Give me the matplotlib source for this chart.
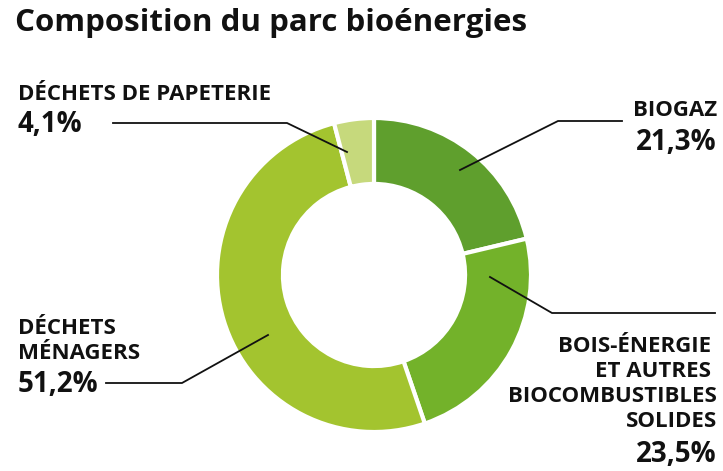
import matplotlib
matplotlib.use("Agg")
import matplotlib.pyplot as plt

# données
categories = ["BIOGAZ", "BOIS-ÉNERGIE \nET AUTRES \nBIOCOMBUSTIBLES\nSOLIDES", "DÉCHETS\nMÉNAGERS", "DÉCHETS DE PAPETERIE"]
values = [21.3, 23.5, 51.2, 4.1]
value_labels = ["21,3%", "23,5%", "51,2%", "4,1%"]
colors = ["#5f9f2d", "#73b22a", "#a3c42f", "#c6d97c"]

W, H = 723, 471
plt.rcParams['font.family'] = ['Open Sans', 'DejaVu Sans']

fig = plt.figure(figsize=(W / 100, H / 100), dpi=100)
ax = fig.add_axes([0, 0, 1, 1])

def py(y):
    # pixel (haut) -> coordonnées
    return H - y

cx, cy, r = 374, py(275), 157
ax.pie(values, colors=colors, startangle=90, counterclock=False,
       center=(cx, cy), radius=r, frame=True,
       wedgeprops=dict(width=r * 0.42, edgecolor='white', linewidth=3))
ax.set_xlim(0, W)
ax.set_ylim(0, H)
ax.axis('off')

ax.text(15, py(23), "Composition du parc bioénergies", fontsize=22.5, fontweight='bold',
        va='center', ha='left', color='#111111')

# lignes de rappel
leaders = [
    [(460, 170), (558, 121), (622, 121)],
    [(490, 277), (552, 313), (715, 313)],
    [(268, 335), (182, 383), (106, 383)],
    [(347, 152), (287, 123), (113, 123)],
]
for pts in leaders:
    ax.plot([p[0] for p in pts], [py(p[1]) for p in pts], color='#111111', lw=1.3)

lab_kw = dict(fontsize=16, fontweight='bold', color='#111111', linespacing=1.25)
pct_kw = dict(fontsize=20, fontweight='bold', color='#111111')

ax.text(717, py(111), categories[0], ha='right', va='center', **lab_kw)
ax.text(717, py(143), value_labels[0], ha='right', va='center', **pct_kw)

ax.text(717, py(384), categories[1], ha='right', va='center', multialignment='right', **lab_kw)
ax.text(717, py(455), value_labels[1], ha='right', va='center', **pct_kw)

ax.text(18, py(341), categories[2], ha='left', va='center', **lab_kw)
ax.text(18, py(385), value_labels[2], ha='left', va='center', **pct_kw)

ax.text(18, py(94), categories[3], ha='left', va='center', **lab_kw)
ax.text(18, py(125), value_labels[3], ha='left', va='center', **pct_kw)

fig.savefig("out.png", dpi=100, facecolor='white')
